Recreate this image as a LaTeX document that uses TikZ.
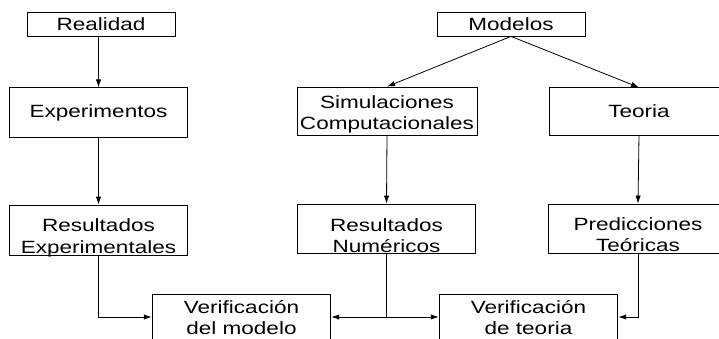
\documentclass[tikz,border=0pt]{standalone}
\usepackage{fontspec}
\setmainfont{Liberation Sans}[FakeStretch=1.27]
\usetikzlibrary{arrows.meta,positioning}
\newcommand{\twolines}[2]{\begin{tabular}[t]{@{}c@{}}#1\\#2\end{tabular}}

\begin{document}
\begin{tikzpicture}[x=0.75pt,y=-0.75pt,
  modstep/.style={draw,line width=0.6pt,minimum width=134pt,minimum height=37pt,
    inner sep=2pt,font=\fontsize{13.3pt}{16.2pt}\selectfont},
  modtwo/.style={modstep,minimum height=0pt,inner ysep=0pt},
  modarrow/.style={-{Latex[length=6pt,width=4pt]},line width=0.6pt}
]
  \useasboundingbox (0,0) rectangle (719,339);
  \clip (0,0) rectangle (719,339);
  % Row 1: sources
  \node[modstep,minimum width=111pt,minimum height=18.5pt] (real) at (101,24.5) {Realidad};
  \node[modstep,minimum width=111pt,minimum height=18pt] (model) at (511,24) {Modelos};
  % Row 2
  \node[modstep] (exper) at (98.5,112.5) {Experimentos};
  \node[modtwo,minimum width=135pt,text height=16pt,text depth=20pt] (simul) at (387,111)
    {\twolines{Simulaciones}{Computacionales}};
  \node[modstep,minimum width=135pt,minimum height=35.5pt] (teor) at (639,111.5) {Teoria};
  % Row 3
  \node[modtwo,text height=20pt,text depth=17.9pt] (resexp) at (98.5,230.3)
    {\twolines{Resultados}{Experimentales}};
  \node[modtwo,text height=20.2pt,text depth=16.7pt] (resnum) at (386.5,228.7)
    {\twolines{Resultados}{Num\'ericos}};
  \node[modtwo,minimum width=135pt,text height=19.5pt,text depth=17.2pt] (pred) at (638,228.5)
    {\twolines{Predicciones}{Te\'oricas}};
  % Row 4: checks
  \node[modtwo,text height=14.5pt,text depth=23pt] (vmod) at (241.5,319)
    {\twolines{Verificaci\'on}{del modelo}};
  \node[modtwo,text height=14.5pt,text depth=23pt] (vteo) at (528.5,319)
    {\twolines{Verificaci\'on}{de teoria}};
  % Arrows down
  \draw[modarrow] (real.south -| exper.north) -- (exper.north);
  \draw[modarrow] (exper.south) -- (resexp.north);
  \draw[modarrow] (model.south) -- (simul.north);
  \draw[modarrow] (model.south) -- (teor.north);
  \draw[modarrow] (simul.south) -- (resnum.north);
  \draw[modarrow] (teor.south) -- (pred.north);
  % Arrows into the checks
  \coordinate (vlev) at (0,317);
  \draw[modarrow] (resexp.south) |- (vmod.west |- vlev);
  \coordinate (junc) at (resnum.south |- vlev);
  \draw[line width=0.6pt] (resnum.south) -- (junc);
  \draw[modarrow] (junc) -- (vmod.east |- vlev);
  \draw[modarrow] (junc) -- (vteo.west |- vlev);
  \draw[modarrow] (pred.south) |- (vteo.east |- vlev);
\end{tikzpicture}
\end{document}
